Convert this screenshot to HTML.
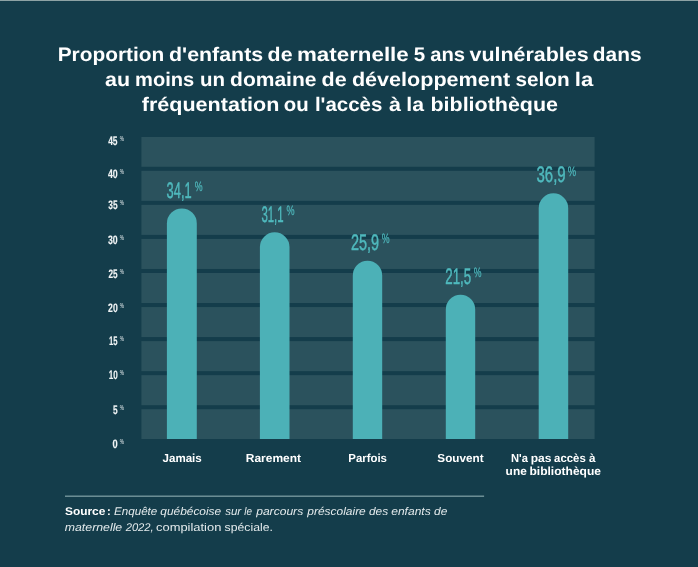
<!DOCTYPE html>
<html lang="fr">
<head>
<meta charset="utf-8">
<title>Proportion d'enfants de maternelle 5 ans vulnérables</title>
<style>
html,body{margin:0;padding:0;background:#143d4b;}
body{width:698px;height:567px;overflow:hidden;}
svg{display:block;}
text{font-family:"Liberation Sans",sans-serif;text-rendering:geometricPrecision;}
.title,.cat{font-weight:bold;fill:#fff;}
.b{font-weight:bold;}
.i{font-style:italic;}
</style>
</head>
<body>
<svg width="698" height="567" viewBox="0 0 698 567">
<rect width="698" height="567" fill="#143d4b"/>
<rect x="0" y="0" width="698" height="1" fill="#8ea3a5"/>
<g style="filter:blur(0.4px)">
<g fill="#2b525d">
<rect x="141.4" y="137.00" width="453.2" height="29.80"/>
<rect x="141.4" y="170.80" width="453.2" height="30.06"/>
<rect x="141.4" y="204.86" width="453.2" height="30.06"/>
<rect x="141.4" y="238.92" width="453.2" height="30.06"/>
<rect x="141.4" y="272.98" width="453.2" height="30.06"/>
<rect x="141.4" y="307.04" width="453.2" height="30.06"/>
<rect x="141.4" y="341.10" width="453.2" height="30.06"/>
<rect x="141.4" y="375.16" width="453.2" height="30.06"/>
<rect x="141.4" y="409.22" width="453.2" height="29.78"/>
</g>
<g fill="#4cb1b7">
<path d="M166.9 439V223.4a14.95 14.95 0 0 1 29.9 0V439z"/>
<path d="M259.9 439V247.1a14.80 14.80 0 0 1 29.6 0V439z"/>
<path d="M352.8 439V275.4a14.70 14.70 0 0 1 29.4 0V439z"/>
<path d="M445.8 439V309.4a14.70 14.70 0 0 1 29.4 0V439z"/>
<path d="M538.7 439V208.1a14.75 14.75 0 0 1 29.5 0V439z"/>
</g>
<rect x="65" y="495.65" width="419.1" height="1" fill="#9ab8bc"/>
<text font-size="19.6" fill="#fff" font-weight="bold"><tspan x="57.70" textLength="106.61" lengthAdjust="spacingAndGlyphs" y="60.60">Proportion</tspan> <tspan x="169.03" textLength="94.13" lengthAdjust="spacingAndGlyphs">d'enfants</tspan> <tspan x="267.63" textLength="24.90" lengthAdjust="spacingAndGlyphs">de</tspan> <tspan x="297.00" textLength="111.75" lengthAdjust="spacingAndGlyphs">maternelle</tspan> <tspan x="413.88" textLength="11.43" lengthAdjust="spacingAndGlyphs">5</tspan> <tspan x="430.28" textLength="34.84" lengthAdjust="spacingAndGlyphs">ans</tspan> <tspan x="469.50" textLength="119.07" lengthAdjust="spacingAndGlyphs">vulnérables</tspan> <tspan x="592.85" textLength="48.70" lengthAdjust="spacingAndGlyphs">dans</tspan></text>
<text font-size="19.6" fill="#fff" font-weight="bold"><tspan x="105.07" textLength="25.01" lengthAdjust="spacingAndGlyphs" y="85.55">au</tspan> <tspan x="135.04" textLength="59.17" lengthAdjust="spacingAndGlyphs">moins</tspan> <tspan x="200.04" textLength="25.05" lengthAdjust="spacingAndGlyphs">un</tspan> <tspan x="230.04" textLength="86.48" lengthAdjust="spacingAndGlyphs">domaine</tspan> <tspan x="321.63" textLength="25.11" lengthAdjust="spacingAndGlyphs">de</tspan> <tspan x="351.93" textLength="158.18" lengthAdjust="spacingAndGlyphs">développement</tspan> <tspan x="515.45" textLength="54.15" lengthAdjust="spacingAndGlyphs">selon</tspan> <tspan x="574.82" textLength="18.44" lengthAdjust="spacingAndGlyphs">la</tspan></text>
<text font-size="19.6" fill="#fff" font-weight="bold"><tspan x="141.76" textLength="137.68" lengthAdjust="spacingAndGlyphs" y="111.00">fréquentation</tspan> <tspan x="283.86" textLength="24.94" lengthAdjust="spacingAndGlyphs">ou</tspan> <tspan x="314.92" textLength="67.41" lengthAdjust="spacingAndGlyphs">l'accès</tspan> <tspan x="388.96" textLength="12.00" lengthAdjust="spacingAndGlyphs">à</tspan> <tspan x="406.27" textLength="17.69" lengthAdjust="spacingAndGlyphs">la</tspan> <tspan x="430.46" textLength="127.58" lengthAdjust="spacingAndGlyphs">bibliothèque</tspan></text>
<text><tspan x="108.15" textLength="9.41" lengthAdjust="spacingAndGlyphs" y="144.75" font-size="12.2" fill="#f0f4f5" font-weight="bold" stroke="#f0f4f5" stroke-width="0.15">45</tspan> <tspan x="119.75" textLength="4.19" lengthAdjust="spacingAndGlyphs" y="140.70" font-size="7.4" fill="#e8eef0">%</tspan></text>
<text><tspan x="107.95" textLength="9.76" lengthAdjust="spacingAndGlyphs" y="177.75" font-size="12.2" fill="#f0f4f5" font-weight="bold" stroke="#f0f4f5" stroke-width="0.15">40</tspan> <tspan x="119.75" textLength="4.19" lengthAdjust="spacingAndGlyphs" y="173.70" font-size="7.4" fill="#e8eef0">%</tspan></text>
<text><tspan x="108.22" textLength="9.34" lengthAdjust="spacingAndGlyphs" y="208.95" font-size="12.2" fill="#f0f4f5" font-weight="bold" stroke="#f0f4f5" stroke-width="0.15">35</tspan> <tspan x="119.75" textLength="4.19" lengthAdjust="spacingAndGlyphs" y="204.90" font-size="7.4" fill="#e8eef0">%</tspan></text>
<text><tspan x="108.01" textLength="9.69" lengthAdjust="spacingAndGlyphs" y="243.65" font-size="12.2" fill="#f0f4f5" font-weight="bold" stroke="#f0f4f5" stroke-width="0.15">30</tspan> <tspan x="119.75" textLength="4.19" lengthAdjust="spacingAndGlyphs" y="239.60" font-size="7.4" fill="#e8eef0">%</tspan></text>
<text><tspan x="108.39" textLength="9.16" lengthAdjust="spacingAndGlyphs" y="277.75" font-size="12.2" fill="#f0f4f5" font-weight="bold" stroke="#f0f4f5" stroke-width="0.15">25</tspan> <tspan x="119.75" textLength="4.19" lengthAdjust="spacingAndGlyphs" y="273.70" font-size="7.4" fill="#e8eef0">%</tspan></text>
<text><tspan x="108.08" textLength="9.62" lengthAdjust="spacingAndGlyphs" y="311.75" font-size="12.2" fill="#f0f4f5" font-weight="bold" stroke="#f0f4f5" stroke-width="0.15">20</tspan> <tspan x="119.75" textLength="4.19" lengthAdjust="spacingAndGlyphs" y="307.70" font-size="7.4" fill="#e8eef0">%</tspan></text>
<text><tspan x="108.97" textLength="8.57" lengthAdjust="spacingAndGlyphs" y="345.45" font-size="12.2" fill="#f0f4f5" font-weight="bold" stroke="#f0f4f5" stroke-width="0.15">15</tspan> <tspan x="119.75" textLength="4.19" lengthAdjust="spacingAndGlyphs" y="341.40" font-size="7.4" fill="#e8eef0">%</tspan></text>
<text><tspan x="108.64" textLength="9.04" lengthAdjust="spacingAndGlyphs" y="379.25" font-size="12.2" fill="#f0f4f5" font-weight="bold" stroke="#f0f4f5" stroke-width="0.15">10</tspan> <tspan x="119.75" textLength="4.19" lengthAdjust="spacingAndGlyphs" y="375.20" font-size="7.4" fill="#e8eef0">%</tspan></text>
<text><tspan x="112.92" textLength="4.64" lengthAdjust="spacingAndGlyphs" y="413.85" font-size="12.2" fill="#f0f4f5" font-weight="bold" stroke="#f0f4f5" stroke-width="0.15">5</tspan> <tspan x="119.75" textLength="4.19" lengthAdjust="spacingAndGlyphs" y="409.80" font-size="7.4" fill="#e8eef0">%</tspan></text>
<text><tspan x="112.56" textLength="5.17" lengthAdjust="spacingAndGlyphs" y="447.85" font-size="12.2" fill="#f0f4f5" font-weight="bold" stroke="#f0f4f5" stroke-width="0.15">0</tspan> <tspan x="119.75" textLength="4.19" lengthAdjust="spacingAndGlyphs" y="443.80" font-size="7.4" fill="#e8eef0">%</tspan></text>
<text><tspan x="166.60" textLength="25.02" lengthAdjust="spacingAndGlyphs" y="197.50" font-size="22.4" fill="#4fb9bd" stroke="#4fb9bd" stroke-width="0.5">34,1</tspan> <tspan x="194.72" textLength="7.84" lengthAdjust="spacingAndGlyphs" y="190.90" font-size="13.6" fill="#4fb9bd" stroke="#4fb9bd" stroke-width="0.25">%</tspan></text>
<text><tspan x="261.39" textLength="22.17" lengthAdjust="spacingAndGlyphs" y="221.50" font-size="22.4" fill="#4fb9bd" stroke="#4fb9bd" stroke-width="0.5">31,1</tspan> <tspan x="286.42" textLength="8.05" lengthAdjust="spacingAndGlyphs" y="214.90" font-size="13.6" fill="#4fb9bd" stroke="#4fb9bd" stroke-width="0.25">%</tspan></text>
<text><tspan x="350.92" textLength="28.16" lengthAdjust="spacingAndGlyphs" y="249.70" font-size="22.4" fill="#4fb9bd" stroke="#4fb9bd" stroke-width="0.5">25,9</tspan> <tspan x="381.82" textLength="7.84" lengthAdjust="spacingAndGlyphs" y="243.10" font-size="13.6" fill="#4fb9bd" stroke="#4fb9bd" stroke-width="0.25">%</tspan></text>
<text><tspan x="445.28" textLength="25.91" lengthAdjust="spacingAndGlyphs" y="283.50" font-size="22.4" fill="#4fb9bd" stroke="#4fb9bd" stroke-width="0.5">21,5</tspan> <tspan x="473.83" textLength="7.73" lengthAdjust="spacingAndGlyphs" y="276.90" font-size="13.6" fill="#4fb9bd" stroke="#4fb9bd" stroke-width="0.25">%</tspan></text>
<text><tspan x="536.53" textLength="29.18" lengthAdjust="spacingAndGlyphs" y="182.40" font-size="22.4" fill="#4fb9bd" stroke="#4fb9bd" stroke-width="0.5">36,9</tspan> <tspan x="567.81" textLength="8.37" lengthAdjust="spacingAndGlyphs" y="175.80" font-size="13.6" fill="#4fb9bd" stroke="#4fb9bd" stroke-width="0.25">%</tspan></text>
<text font-size="11.6" fill="#fff" font-weight="bold"><tspan x="162.50" textLength="39.27" lengthAdjust="spacingAndGlyphs" y="461.50">Jamais</tspan></text>
<text font-size="11.6" fill="#fff" font-weight="bold"><tspan x="245.75" textLength="55.31" lengthAdjust="spacingAndGlyphs" y="461.50">Rarement</tspan></text>
<text font-size="11.6" fill="#fff" font-weight="bold"><tspan x="348.29" textLength="38.68" lengthAdjust="spacingAndGlyphs" y="461.50">Parfois</tspan></text>
<text font-size="11.6" fill="#fff" font-weight="bold"><tspan x="437.32" textLength="46.24" lengthAdjust="spacingAndGlyphs" y="461.50">Souvent</tspan></text>
<text font-size="11.6" fill="#fff" font-weight="bold"><tspan x="511.00" textLength="16.93" lengthAdjust="spacingAndGlyphs" y="461.50">N'a</tspan> <tspan x="530.65" textLength="20.74" lengthAdjust="spacingAndGlyphs">pas</tspan> <tspan x="554.12" textLength="31.64" lengthAdjust="spacingAndGlyphs">accès</tspan> <tspan x="589.02" textLength="6.51" lengthAdjust="spacingAndGlyphs">à</tspan> <tspan x="505.64" textLength="21.15" lengthAdjust="spacingAndGlyphs" y="474.70">une</tspan> <tspan x="529.45" textLength="71.55" lengthAdjust="spacingAndGlyphs" y="474.70">bibliothèque</tspan></text>
<text><tspan x="65.01" textLength="40.38" lengthAdjust="spacingAndGlyphs" y="515.10" font-size="11.2" fill="#fff" font-weight="bold">Source</tspan> <tspan x="106.95" textLength="3.73" lengthAdjust="spacingAndGlyphs" font-size="11.2" fill="#fff" font-weight="bold">:</tspan> <tspan x="114.02" textLength="43.27" lengthAdjust="spacingAndGlyphs" font-size="11.2" fill="#e3eaec" font-style="italic">Enquête</tspan> <tspan x="160.33" textLength="60.87" lengthAdjust="spacingAndGlyphs" font-size="11.2" fill="#e3eaec" font-style="italic">québécoise</tspan> <tspan x="225.20" textLength="16.02" lengthAdjust="spacingAndGlyphs" font-size="11.2" fill="#e3eaec" font-style="italic">sur</tspan> <tspan x="244.25" textLength="7.70" lengthAdjust="spacingAndGlyphs" font-size="11.2" fill="#e3eaec" font-style="italic">le</tspan> <tspan x="256.18" textLength="47.01" lengthAdjust="spacingAndGlyphs" font-size="11.2" fill="#e3eaec" font-style="italic">parcours</tspan> <tspan x="307.37" textLength="58.42" lengthAdjust="spacingAndGlyphs" font-size="11.2" fill="#e3eaec" font-style="italic">préscolaire</tspan> <tspan x="369.03" textLength="19.16" lengthAdjust="spacingAndGlyphs" font-size="11.2" fill="#e3eaec" font-style="italic">des</tspan> <tspan x="391.22" textLength="39.46" lengthAdjust="spacingAndGlyphs" font-size="11.2" fill="#e3eaec" font-style="italic">enfants</tspan> <tspan x="434.03" textLength="13.27" lengthAdjust="spacingAndGlyphs" font-size="11.2" fill="#e3eaec" font-style="italic">de</tspan> <tspan x="64.81" textLength="57.40" lengthAdjust="spacingAndGlyphs" y="530.50" font-size="11.2" fill="#e3eaec" font-style="italic">maternelle</tspan> <tspan x="125.67" textLength="28.01" lengthAdjust="spacingAndGlyphs" y="530.50" font-size="11.2" fill="#e3eaec" font-style="italic">2022,</tspan> <tspan x="156.00" textLength="65.33" lengthAdjust="spacingAndGlyphs" y="530.50" font-size="11.2" fill="#e3eaec">compilation</tspan> <tspan x="224.61" textLength="48.30" lengthAdjust="spacingAndGlyphs" y="530.50" font-size="11.2" fill="#e3eaec">spéciale.</tspan></text>
</g>
</svg>
</body>
</html>
